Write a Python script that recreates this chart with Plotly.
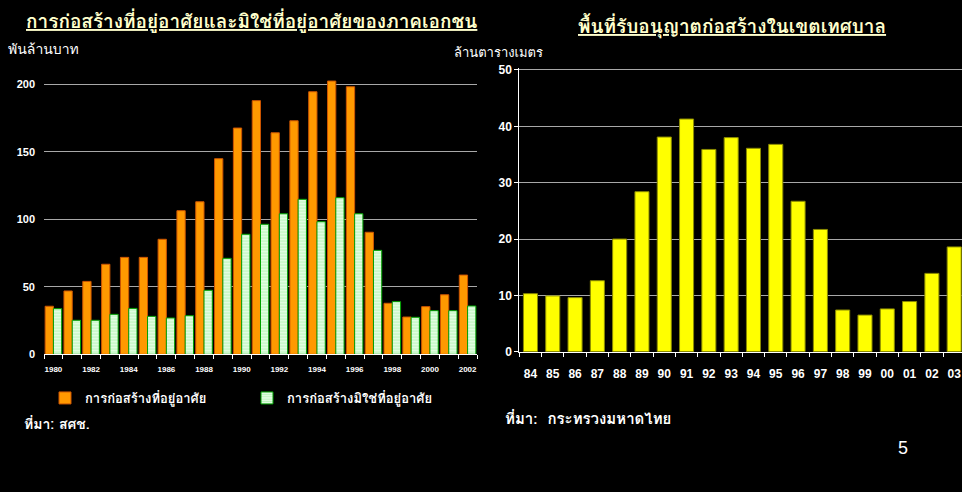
import plotly.graph_objects as go

# ---- Left chart data (พันล้านบาท) ----
years_left = [str(y) for y in range(1980, 2003)]
residential = [35.6, 46.9, 54.0, 66.7, 71.8, 71.8, 85.2, 106.4, 113.0, 144.9, 167.6,
               187.9, 164.1, 173.0, 194.5, 202.4, 198.2, 90.4, 37.8, 27.6, 35.3, 44.1, 58.7]
non_residential = [33.8, 25.2, 25.2, 29.6, 34.0, 28.1, 26.9, 28.6, 47.4, 71.1, 88.9,
                   96.3, 104.1, 114.8, 98.2, 116.0, 104.1, 77.0, 39.0, 27.4, 32.3, 32.3, 35.8]
left_ticktext = [y if (int(y) % 2 == 0) else "" for y in years_left]

# ---- Right chart data (ล้านตารางเมตร) ----
years_right = ["84", "85", "86", "87", "88", "89", "90", "91", "92", "93",
               "94", "95", "96", "97", "98", "99", "00", "01", "02", "03"]
permitted_area = [10.3, 9.9, 9.6, 12.6, 20.0, 28.4, 38.1, 41.3, 35.9, 38.0,
                  36.1, 36.8, 26.7, 21.7, 7.4, 6.5, 7.6, 8.9, 13.9, 18.6]

W, H = 962, 492
NARROW = "Liberation Sans Narrow, Arial Narrow, Liberation Sans, Arial, sans-serif"
THAI = "Tahoma, Loma, Garuda, Noto Sans Thai, DejaVu Sans, sans-serif"

fig = go.Figure()

fig.add_trace(go.Bar(
    x=years_left, y=residential, name="การก่อสร้างที่อยู่อาศัย",
    marker=dict(color="#FF9900", line=dict(color="#CC5500", width=1)),
    xaxis="x", yaxis="y",
))
fig.add_trace(go.Bar(
    x=years_left, y=non_residential, name="การก่อสร้างมิใช่ที่อยู่อาศัย",
    marker=dict(color="#DDFFDD", line=dict(color="#00A000", width=1),
                pattern=dict(shape="-", fgcolor="#88EE88", bgcolor="#EEFFEE",
                             size=3, solidity=0.5)),
    xaxis="x", yaxis="y",
))
fig.add_trace(go.Bar(
    x=years_right, y=permitted_area, name="พื้นที่รับอนุญาต", width=0.63,
    marker=dict(color="#FFFF00", line=dict(color="#8A8A00", width=1)),
    xaxis="x2", yaxis="y2", showlegend=False,
))

def px_x(p):
    return p / W

def px_y(p):
    return 1 - p / H

# left plot: x 44..477, y 0 at 354.3, 1.35 px/unit
l_top = 354.3 - 205 * 1.35
# right plot: x 519.3..962, 0 at 351.7, 50 at 70
r_scale = (351.7 - 70) / 50
r_top = 351.7 - 50.3 * r_scale

fig.update_layout(
    width=W, height=H,
    margin=dict(l=0, r=0, t=0, b=0, autoexpand=False),
    paper_bgcolor="black", plot_bgcolor="black",
    barmode="group", bargap=0.12, bargroupgap=0.0,
    font=dict(family=THAI, color="white"),
    xaxis=dict(
        domain=[px_x(44), px_x(477)], anchor="y", automargin=False,
        type="category", tickmode="array", tickvals=years_left, ticktext=left_ticktext,
        tickson="boundaries", ticks="outside", ticklen=4, tickcolor="white",
        showline=True, linecolor="white", linewidth=1, showgrid=False,
        tickangle=0, ticklabelstandoff=7,
        tickfont=dict(family=NARROW, size=8, color="white", weight="bold"),
        fixedrange=True,
    ),
    yaxis=dict(
        domain=[px_y(354.3), px_y(l_top)], anchor="x", automargin=False,
        range=[0, 205], tickvals=[0, 50, 100, 150, 200],
        showgrid=True, gridcolor="#A8A8A8", gridwidth=1, zeroline=False,
        showline=False, ticks="", ticklabelstandoff=8,
        tickfont=dict(family=NARROW, size=11, color="white", weight="bold"),
    ),
    xaxis2=dict(
        domain=[px_x(519.3), 1.0], anchor="y2", automargin=False,
        type="category", range=[-0.5, 19.35],
        tickson="boundaries", ticks="outside", ticklen=4, tickcolor="white",
        showline=True, linecolor="white", linewidth=1, showgrid=False,
        tickangle=0, ticklabelstandoff=11,
        tickfont=dict(family=NARROW, size=12, color="white", weight="bold"),
    ),
    yaxis2=dict(
        domain=[px_y(351.7), px_y(r_top)], anchor="x2", automargin=False,
        range=[0, 50.3], tickvals=[0, 10, 20, 30, 40, 50],
        showgrid=True, gridcolor="#A8A8A8", gridwidth=1, zeroline=False,
        showline=True, linecolor="white", linewidth=1,
        ticks="outside", ticklen=4, tickcolor="white",
        tickfont=dict(family=NARROW, size=12, color="white", weight="bold"),
    ),
    legend=dict(
        orientation="h", x=px_x(45), y=px_y(383), xanchor="left", yanchor="top",
        bgcolor="rgba(0,0,0,0)", entrywidth=157, entrywidthmode="pixels",
        font=dict(family=THAI, size=13, color="white", weight="bold"),
        itemwidth=30, tracegroupgap=0,
    ),
    showlegend=True,
)

TITLE_COLOR = "#FFFFCC"
ann = [
    dict(text="<u>การก่อสร้างที่อยู่อาศัยและมิใช่ที่อยู่อาศัยของภาคเอกชน</u>",
         x=px_x(251), y=px_y(21), xanchor="center", yanchor="middle",
         font=dict(family=THAI, size=19, color=TITLE_COLOR, weight="bold")),
    dict(text="<u>พื้นที่รับอนุญาตก่อสร้างในเขตเทศบาล</u>",
         x=px_x(732), y=px_y(26), xanchor="center", yanchor="middle",
         font=dict(family=THAI, size=19, color=TITLE_COLOR, weight="bold")),
    dict(text="พันล้านบาท", x=px_x(6), y=px_y(49), xanchor="left", yanchor="middle",
         font=dict(family=THAI, size=14, color="white")),
    dict(text="ล้านตารางเมตร", x=px_x(452), y=px_y(52), xanchor="left", yanchor="middle",
         font=dict(family=THAI, size=13, color="white")),
    dict(text="ที่มา: สศช.", x=px_x(22), y=px_y(424), xanchor="left", yanchor="middle",
         font=dict(family=THAI, size=14, color="white", weight="bold")),
    dict(text="ที่มา:  กระทรวงมหาดไทย", x=px_x(503), y=px_y(419), xanchor="left", yanchor="middle",
         font=dict(family=THAI, size=15, color="white", weight="bold")),
    dict(text="5", x=px_x(903), y=px_y(448), xanchor="center", yanchor="middle",
         font=dict(family="Liberation Sans, Arial, sans-serif", size=18, color="white")),
]
for a in ann:
    a.update(xref="paper", yref="paper", showarrow=False)
fig.update_layout(annotations=ann)

fig.write_html("out.html")
